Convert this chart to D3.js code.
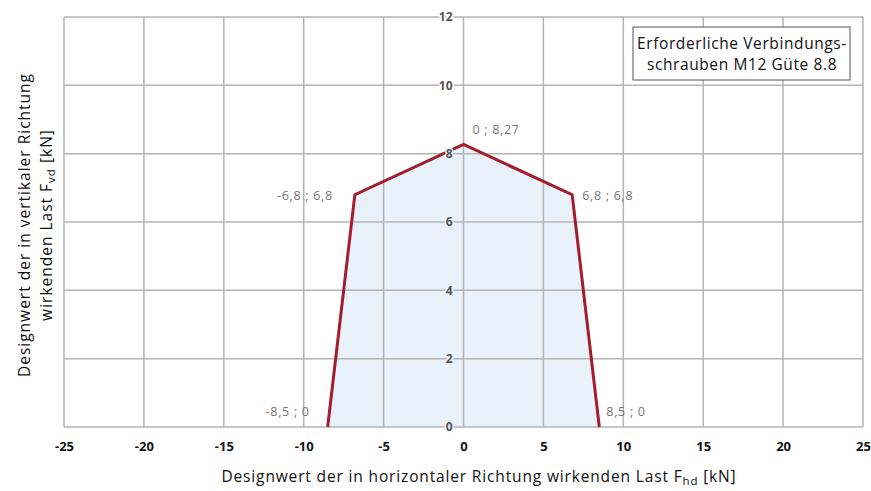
<!DOCTYPE html>
<html>
<head>
<meta charset="utf-8">
<script src="https://cdn.jsdelivr.net/npm/d3@7"></script>
<style>
  body { margin: 0; background: #fff; }
  svg { display: block; }
  text { font-family: "Open Sans", "Noto Sans", sans-serif; }
</style>
</head>
<body>
<svg id="chart" width="871" height="491"></svg>
<script>
// Interaction envelope for the connection bolts (kN)
const xValues = [-8.5, -6.8, 0, 6.8, 8.5];
const yValues = [0, 6.8, 8.27, 6.8, 0];
const pointLabels = ["-8,5 ; 0", "-6,8 ; 6,8", "0 ; 8,27", "6,8 ; 6,8", "8,5 ; 0"];
const xTicks = [-25, -20, -15, -10, -5, 0, 5, 10, 15, 20, 25];
const yTicks = [0, 2, 4, 6, 8, 10, 12];
const noteLines = ["Erforderliche Verbindungs-", "schrauben M12 Güte 8.8"];

const svg = d3.select("#chart");
const plotLeft = 64, plotRight = 863, plotTop = 17, plotBottom = 427;

const x = d3.scaleLinear().domain([-25, 25]).range([plotLeft, plotRight]);
const y = d3.scaleLinear().domain([0, 12]).range([plotBottom, plotTop]);

const gridColor = "#b4b4b4";
const fillColor = "#e9f1fa";
const plain = d => String(d);

// polygon fill
const pts = xValues.map((v, i) => [x(v), y(yValues[i])]);
svg.append("path")
  .attr("d", d3.line()(pts) + "Z")
  .attr("fill", fillColor)
  .attr("stroke", "none");

// grid
const grid = svg.append("g").attr("stroke", gridColor).attr("stroke-width", 1.5);
xTicks.forEach(t => {
  grid.append("line").attr("x1", x(t)).attr("x2", x(t)).attr("y1", plotTop).attr("y2", plotBottom);
});
yTicks.forEach(t => {
  grid.append("line").attr("x1", plotLeft).attr("x2", plotRight).attr("y1", y(t)).attr("y2", y(t));
});

// envelope outline
svg.append("path")
  .attr("d", d3.line()(pts))
  .attr("fill", "none")
  .attr("stroke", "#a31d2c")
  .attr("stroke-width", 3)
  .attr("stroke-linejoin", "miter");

// y tick labels along x = 0, with halo matching the local background
const yAxis = d3.axisLeft(y).tickValues(yTicks).tickFormat(plain).tickSize(0).tickPadding(11);
const ya = svg.append("g").attr("transform", `translate(${x(0)},0)`).call(yAxis);
ya.select(".domain").remove();
ya.selectAll("text")
  .attr("font-size", 12)
  .attr("font-weight", "bold")
  .attr("fill", "#555")
  .attr("stroke", d => d3.polygonContains(pts, [x(0) - 16, y(d) - 1]) || d === 0 ? fillColor : "#fff")
  .attr("stroke-width", 3)
  .attr("paint-order", "stroke");

// x tick labels
const xAxis = d3.axisBottom(x).tickValues(xTicks).tickFormat(plain).tickSize(0).tickPadding(15);
const xa = svg.append("g").attr("transform", `translate(0,${plotBottom})`).call(xAxis);
xa.select(".domain").remove();
xa.selectAll("text")
  .attr("font-size", 13)
  .attr("font-weight", "bold")
  .attr("fill", "#111");

// point labels
const labelPos = [
  { dx: -18, dy: -11, anchor: "end" },
  { dx: -22, dy: 5, anchor: "end" },
  { dx: 9, dy: -10, anchor: "start" },
  { dx: 10, dy: 5, anchor: "start" },
  { dx: 7, dy: -11, anchor: "start" }
];
pointLabels.forEach((s, i) => {
  svg.append("text")
    .attr("x", pts[i][0] + labelPos[i].dx)
    .attr("y", pts[i][1] + labelPos[i].dy)
    .attr("text-anchor", labelPos[i].anchor)
    .attr("font-size", 12.5)
    .attr("letter-spacing", 0.7)
    .attr("fill", "#777")
    .text(s);
});

// note box
const note = svg.append("g");
note.append("rect")
  .attr("x", 633).attr("y", 27).attr("width", 217).attr("height", 53)
  .attr("fill", "#fff").attr("stroke", "#555").attr("stroke-width", 1);
noteLines.forEach((s, i) => {
  note.append("text")
    .attr("x", 742).attr("y", 49 + i * 21)
    .attr("text-anchor", "middle")
    .attr("font-size", 15.5)
    .attr("letter-spacing", 0.6)
    .attr("fill", "#111")
    .text(s);
});

// x axis title
const xt = svg.append("text")
  .attr("x", 479).attr("y", 482)
  .attr("text-anchor", "middle")
  .attr("font-size", 15.5)
  .attr("letter-spacing", 0.85)
  .attr("fill", "#111");
xt.append("tspan").text("Designwert der in horizontaler Richtung wirkenden Last F");
xt.append("tspan").attr("font-size", 11.5).attr("dy", 3).text("hd");
xt.append("tspan").attr("dy", -3).text(" [kN]");

// y axis title (two lines, rotated)
const yt = svg.append("g").attr("transform", "translate(0,225) rotate(-90)");
yt.append("text")
  .attr("x", 0).attr("y", 30)
  .attr("text-anchor", "middle")
  .attr("font-size", 15.5)
  .attr("letter-spacing", 1)
  .attr("fill", "#111")
  .text("Designwert der in vertikaler Richtung");
const yt2 = yt.append("text")
  .attr("x", 0).attr("y", 52)
  .attr("text-anchor", "middle")
  .attr("font-size", 15.5)
  .attr("letter-spacing", 1)
  .attr("fill", "#111");
yt2.append("tspan").text("wirkenden Last F");
yt2.append("tspan").attr("font-size", 11.5).attr("dy", 3).text("vd");
yt2.append("tspan").attr("dy", -3).text(" [kN]");
</script>
</body>
</html>
